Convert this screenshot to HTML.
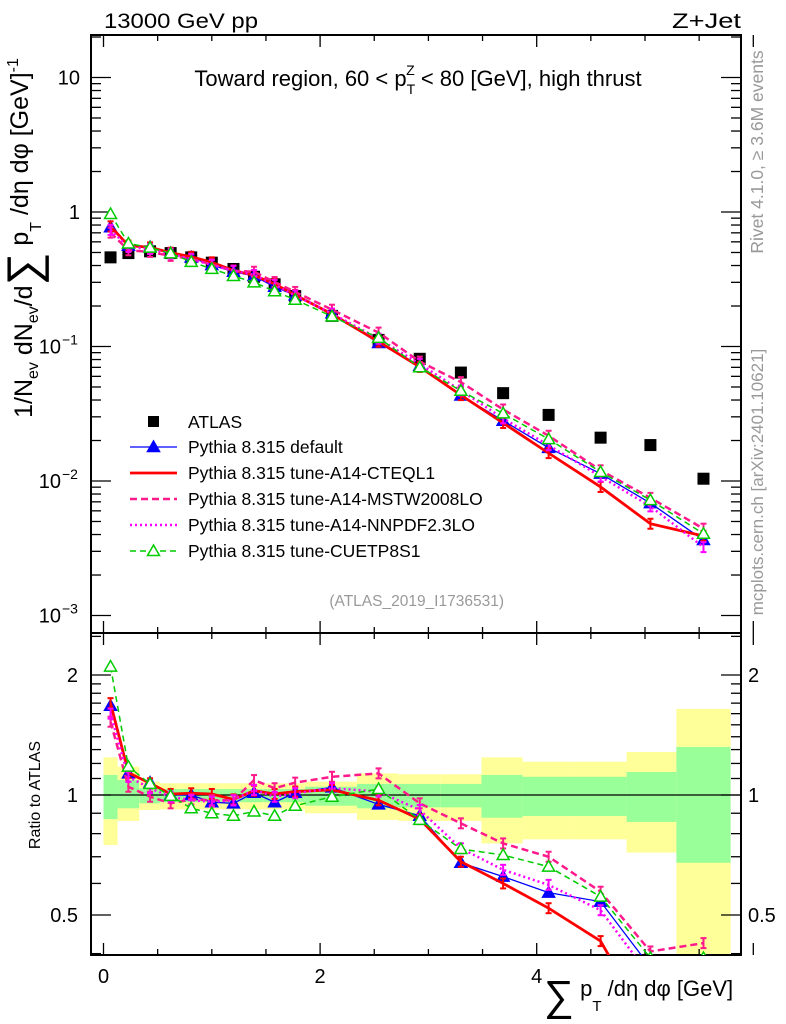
<!DOCTYPE html>
<html><head><meta charset="utf-8">
<style>
html,body{margin:0;padding:0;background:#fff;}
svg{display:block;font-family:"Liberation Sans",sans-serif;}
</style></head>
<body>
<svg id="chart" width="786" height="1024" viewBox="0 0 786 1024" xmlns="http://www.w3.org/2000/svg">
<g id="bands"></g>
<g id="grid"></g>
<g id="series"></g>
<g id="texts">
<text x="104" y="28" font-size="21" textLength="154" lengthAdjust="spacingAndGlyphs">13000 GeV pp</text>
<text x="672" y="28" font-size="21" textLength="69" lengthAdjust="spacingAndGlyphs">Z+Jet</text>
<text x="418" y="86" font-size="22" text-anchor="middle">Toward region, 60 &lt; p<tspan font-size="14" dy="8">T</tspan><tspan font-size="14" dx="-9" dy="-19">Z</tspan><tspan dy="11"> &lt; 80 [GeV], high thrust</tspan></text>
<text x="504" y="606" font-size="15.5" fill="#999" text-anchor="end">(ATLAS_2019_I1736531)</text>
<text transform="translate(763,152) rotate(-90)" font-size="17.5" fill="#999" text-anchor="middle">Rivet 4.1.0, ≥ 3.6M events</text>
<text transform="translate(763,482) rotate(-90)" font-size="17" fill="#999" text-anchor="middle">mcplots.cern.ch [arXiv:2401.10621]</text>
<text transform="translate(32,238) rotate(-90)" font-size="25" text-anchor="middle">1/N<tspan font-size="16" dy="6">ev</tspan><tspan dy="-6"> dN</tspan><tspan font-size="16" dy="6">ev</tspan><tspan dy="-6">/d</tspan><tspan font-size="46" dy="7">∑</tspan><tspan dy="-11"> p</tspan><tspan font-size="16" dy="13">T</tspan><tspan dy="-13"> /dη dφ  [GeV]</tspan><tspan font-size="16" dy="-10">-1</tspan></text>
<text transform="translate(40,795) rotate(-90)" font-size="16" text-anchor="middle">Ratio to ATLAS</text>
<text x="544" y="1000" font-size="22"><tspan font-size="42" dy="10">∑</tspan><tspan dy="-14"> p</tspan><tspan font-size="15" dy="15">T</tspan><tspan dy="-15"> /dη dφ [GeV]</tspan></text>
</g>
<g id="legend"></g>
</svg>
<script>
const edges=[0,0.13,0.33,0.52,0.71,0.9,1.1,1.29,1.48,1.67,1.86,2.34,2.72,3.11,3.49,3.87,4.34,4.83,5.29,5.79];
const xs=[0.065,0.23,0.43,0.62,0.81,1.0,1.2,1.39,1.58,1.77,2.11,2.54,2.92,3.3,3.69,4.11,4.59,5.05,5.54];
const atlas=[0.46,0.495,0.51,0.495,0.46,0.42,0.377,0.33,0.29,0.237,0.169,0.112,0.081,0.064,0.045,0.031,0.021,0.0185,0.0104];
const yellowHi=[1.243,1.178,1.08,1.07,1.07,1.07,1.07,1.07,1.07,1.07,1.08,1.133,1.127,1.127,1.243,1.212,1.212,1.282,1.644];
const yellowLo=[0.749,0.861,0.917,0.92,0.92,0.92,0.92,0.92,0.92,0.92,0.9,0.866,0.861,0.861,0.756,0.774,0.774,0.717,0.3];
const greenHi=[1.123,1.09,1.04,1.035,1.035,1.035,1.035,1.035,1.035,1.035,1.049,1.066,1.066,1.066,1.123,1.111,1.111,1.142,1.32];
const greenLo=[0.87,0.926,0.953,0.959,0.959,0.959,0.959,0.959,0.959,0.959,0.94,0.926,0.931,0.931,0.877,0.886,0.886,0.856,0.676];
const rDefault=[1.675,1.133,1.074,1.0,1.0,0.959,0.953,1.013,0.959,1.013,1.045,0.947,0.887,0.676,0.624,0.569,0.54,0.37,0.35];
const rCTEQ=[1.70,1.137,1.07,1.006,1.01,1.006,0.975,1.025,1.006,1.02,1.03,0.97,0.87,0.68,0.60,0.52,0.43,0.26,0.375];
const rMSTW=[1.527,1.049,0.99,0.953,0.975,0.97,0.97,1.09,1.04,1.074,1.111,1.133,0.953,0.849,0.756,0.70,0.572,0.405,0.425];
const rNNPDF=[1.60,1.111,1.04,0.99,0.97,0.962,0.97,1.03,0.99,1.01,1.04,1.02,0.917,0.735,0.649,0.595,0.514,0.35,0.31];
const rCUETP=[2.10,1.178,1.066,0.995,0.926,0.90,0.887,0.909,0.887,0.94,0.99,1.035,0.866,0.732,0.707,0.661,0.556,0.39,0.39];
const legendLabels=["ATLAS","Pythia 8.315 default","Pythia 8.315 tune-A14-CTEQL1","Pythia 8.315 tune-A14-MSTW2008LO","Pythia 8.315 tune-A14-NNPDF2.3LO","Pythia 8.315 tune-CUETP8S1"];

const NS="http://www.w3.org/2000/svg";
const L=91,R=741,T=35,MB=633,RB=955;
const X=v=>103.5+v*108.3;
const Y=v=>212-Math.log10(v)*134.5;
const YR=v=>795-Math.log10(v)*398.6;
function mk(tag,at,parent){const e=document.createElementNS(NS,tag);for(const k in at)e.setAttribute(k,at[k]);parent.appendChild(e);return e;}
const gB=document.getElementById('bands'),gG=document.getElementById('grid'),gS=document.getElementById('series'),gL=document.getElementById('legend');

const defs=mk('defs',{},document.getElementById('chart'));
const c1=mk('clipPath',{id:'cm'},defs);mk('rect',{x:L,y:T,width:R-L,height:MB-T},c1);
const c2=mk('clipPath',{id:'cr'},defs);mk('rect',{x:L,y:MB,width:R-L,height:RB-MB},c2);
gB.setAttribute('clip-path','url(#cr)');

for(let i=0;i<xs.length;i++){
  const x1=X(edges[i]),x2=X(edges[i+1]);
  let r=mk('rect',{x:x1,y:YR(yellowHi[i]),width:x2-x1,height:YR(yellowLo[i])-YR(yellowHi[i]),fill:'#ffff99'},gB);
  
  
  r=mk('rect',{x:x1,y:YR(greenHi[i]),width:x2-x1,height:YR(greenLo[i])-YR(greenHi[i]),fill:'#99ff99'},gB);
  
  
}
mk('line',{x1:L,x2:R,y1:YR(1),y2:YR(1),stroke:'#000','stroke-width':1.2},gB);

mk('rect',{x:L,y:T,width:R-L,height:MB-T,fill:'none',stroke:'#000','stroke-width':2},gG);
mk('rect',{x:L,y:MB,width:R-L,height:RB-MB,fill:'none',stroke:'#000','stroke-width':2},gG);
for(let k=0;k<=13;k++){const v=k*0.5;const x=X(v);const len=(k%4==0)?12:6;
  for(const [yb,dir] of [[T,1],[MB,-1],[MB,1],[RB,-1]]) mk('line',{x1:x,x2:x,y1:yb,y2:yb+dir*len,stroke:'#000','stroke-width':1.3},gG);
}
[0,2,4].forEach(v=>{const t=mk('text',{x:X(v),y:983,'font-size':20,'text-anchor':'middle'},gG);t.textContent=v;
  
  });
for(let e=-3;e<=1;e++){for(let m=1;m<=9;m++){const v=m*Math.pow(10,e);const y=Y(v);if(y<T||y>MB)continue;const len=m==1?20:10;
  mk('line',{x1:L,x2:L+len,y1:y,y2:y,stroke:'#000','stroke-width':1.3},gG);
  mk('line',{x1:R,x2:R-len,y1:y,y2:y,stroke:'#000','stroke-width':1.3},gG);}}
const mainLbl=[["10",10],["1",1]];
mainLbl.forEach(([s,v])=>{const t=mk('text',{x:80,y:Y(v)+7,'font-size':20,'text-anchor':'end'},gG);t.textContent=s;
  
  });
[-1,-2,-3].forEach(e=>{const t=mk('text',{x:61,y:Y(Math.pow(10,e))+7,'font-size':20,'text-anchor':'end'},gG);t.textContent='10';
  
  
  const s=mk('text',{x:62,y:Y(Math.pow(10,e))-2,'font-size':14},gG);s.textContent='−'+(-e);});
[0.4,0.5,0.6,0.7,0.8,0.9,1,1.1,1.2,1.3,1.4,1.5,1.6,1.7,1.8,1.9,2,2.5].forEach(v=>{const y=YR(v);if(y<MB||y>RB)return;const len=(v==0.5||v==1||v==2)?20:10;
  mk('line',{x1:L,x2:L+len,y1:y,y2:y,stroke:'#000','stroke-width':1.3},gG);
  mk('line',{x1:R,x2:R-len,y1:y,y2:y,stroke:'#000','stroke-width':1.3},gG);});
[["2",2],["1",1],["0.5",0.5]].forEach(([s,v])=>{
  let t=mk('text',{x:78,y:YR(v)+7,'font-size':20,'text-anchor':'end'},gG);t.textContent=s;
  
  
  t=mk('text',{x:748,y:YR(v)+7,'font-size':20},gG);t.textContent=s;
  
  });

const series=[
 {name:'pythia-default',r:rDefault,color:'#0000ff',w:1.3,dash:'',marker:'tri-filled'},
 {name:'pythia-cteql1',r:rCTEQ,color:'#ff0000',w:2.8,dash:'',marker:'err'},
 {name:'pythia-mstw2008lo',r:rMSTW,color:'#ff1a8c',w:2.5,dash:'7,4',marker:'err'},
 {name:'pythia-nnpdf23lo',r:rNNPDF,color:'#ff00ff',w:2.5,dash:'2,3',marker:'err'},
 {name:'pythia-cuetp8s1',r:rCUETP,color:'#00cc00',w:1.5,dash:'6,4',marker:'tri-open'}];
function tri(parent,x,y,s,filled){const p=mk('path',{d:`M${x},${y-6}L${x+6},${y+4.5}L${x-6},${y+4.5}Z`,fill:filled?s.color:'#fff',stroke:s.color,'stroke-width':1.5},parent);
  
  }
function drawSeries(s,panel){
  const g=mk('g',{'clip-path':panel=='main'?'url(#cm)':'url(#cr)'},gS);
  
  
  const pts=xs.map((x,i)=>[X(x),panel=='main'?Y(atlas[i]*s.r[i]):YR(s.r[i])]);
  const pl=mk('polyline',{points:pts.map(p=>p.join(',')).join(' '),fill:'none',stroke:s.color,'stroke-width':s.w,'stroke-dasharray':s.dash},g);
  
  
  pts.forEach(([x,y])=>{
    if(s.marker=='err'){mk('line',{x1:x,x2:x,y1:y-5,y2:y+5,stroke:s.color,'stroke-width':2},g);
      mk('line',{x1:x-3,x2:x+3,y1:y-5,y2:y-5,stroke:s.color,'stroke-width':2},g);
      mk('line',{x1:x-3,x2:x+3,y1:y+5,y2:y+5,stroke:s.color,'stroke-width':2},g);}
    else tri(g,x,y,s,s.marker=='tri-filled');
  });
}
const ga=mk('g',{'clip-path':'url(#cm)'},gS);


xs.forEach((x,i)=>{const r=mk('rect',{x:X(x)-6,y:Y(atlas[i])-6,width:12,height:12,fill:'#000'},ga);
  
  });
series.forEach(s=>{drawSeries(s,'main');drawSeries(s,'ratio');});

const ly=[422,447,473,499,525,551];
legendLabels.forEach((lab,i)=>{
  const y=ly[i];
  const g=mk('g',{},gL);
  
  
  if(i==0){mk('rect',{x:148,y:y-6,width:11,height:11,fill:'#000'},g);}
  else{const s=series[i-1];mk('line',{x1:130,x2:177,y1:y,y2:y,stroke:s.color,'stroke-width':s.w,'stroke-dasharray':s.dash},g);
    if(s.marker!='err')tri(g,153.5,y,s,s.marker=='tri-filled');}
  const t=mk('text',{x:188,y:y+6,'font-size':17.5},g);t.textContent=lab;
});
</script>
</body></html>
